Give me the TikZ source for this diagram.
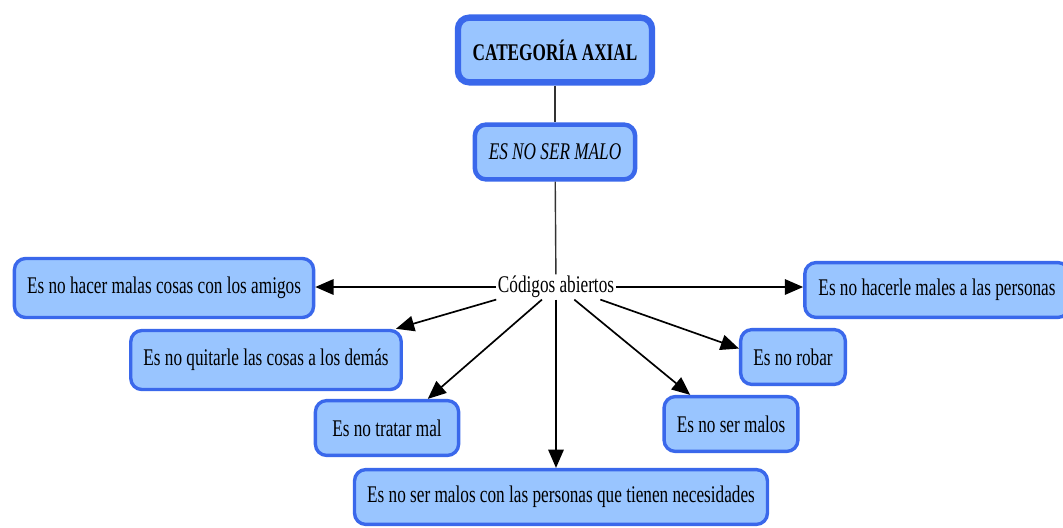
\documentclass[tikz,border=0pt]{standalone}
\usepackage{fontspec}
\setmainfont{Liberation Serif}[FakeStretch=0.72]
\usetikzlibrary{arrows.meta}
\definecolor{boxfill}{RGB}{153,197,255}
\definecolor{boxline}{RGB}{58,104,235}
\tikzstyle{concept} = [rectangle, rounded corners=8pt, minimum height=39pt, inner xsep=9pt, text centered, draw=boxline, line width=2.4pt, fill=boxfill, font=\fontsize{17}{20}\selectfont]
\tikzstyle{axial} = [concept, line width=4.5pt, minimum width=138pt, minimum height=46pt, font=\fontsize{17}{20}\selectfont\bfseries]
\tikzstyle{subaxial} = [concept, line width=3.2pt, minimum width=114pt, minimum height=39pt, font=\fontsize{17}{20}\selectfont\itshape]
\tikzstyle{arrow} = [line width=1.2pt, -{Triangle[length=13pt,width=11pt]}]

\begin{document}
\begin{tikzpicture}[x=0.025cm, y=-0.025cm]
			\path[use as bounding box] (0,0) rectangle (1063,527);
			\clip (0,0) rectangle (1063,527);
			
			\node[axial] (cat) at (555,50) {CATEGORÍA AXIAL};
			\node[subaxial] (malo) at (555,152) {ES NO SER MALO};
			\node[inner sep=1pt, font=\fontsize{17}{20}\selectfont] (codes) at (556,287) {Códigos abiertos};
			
			\node[concept, minimum height=42pt] (amigos) at (164,288) {Es no hacer malas cosas con los amigos};
			\node[concept, minimum height=42pt] (quitar) at (266,360) {Es no quitarle las cosas a los demás};
			\node[concept, inner xsep=12pt] (tratar) at (387,428) {Es no tratar mal};
			\node[concept] (necesidades) at (561,497) {Es no ser malos con las personas que tienen necesidades};
			\node[concept] (malos) at (731,424) {Es no ser malos};
			\node[concept] (robar) at (793,357) {Es no robar};
			\node[concept, minimum width=188pt] (personas) at (937,290) {Es no hacerle males a las personas};
			
			\draw [line width=1pt, black!80] (cat) -- (malo);
			\draw [line width=1pt, black!80] (malo) -- (codes);
			\draw [arrow] (codes.west) -- (codes.west -| amigos.east);
			\draw [arrow] (codes.south west) -- ([xshift=-5pt]quitar.north east);
			\draw [arrow] ([xshift=-10pt]codes.south) -- ([xshift=29pt]tratar.north);
			\draw [arrow] (codes.south) -- (codes.south |- necesidades.north);
			\draw [arrow] ([xshift=13pt]codes.south) -- ([xshift=-29pt]malos.north);
			\draw [arrow] ([xshift=-11pt]codes.south east) -- ([yshift=6pt]robar.west);
			\draw [arrow] (codes.east) -- (codes.east -| personas.west);
			
		\end{tikzpicture}
\end{document}
